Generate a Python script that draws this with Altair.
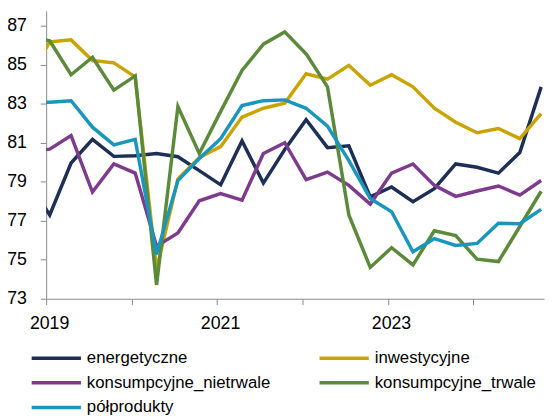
import altair as alt
import pandas as pd

periods = ["2018-10", "2019-01", "2019-04", "2019-07", "2019-10", "2020-01", "2020-04",
           "2020-07", "2020-10", "2021-01", "2021-04", "2021-07", "2021-10", "2022-01",
           "2022-04", "2022-07", "2022-10", "2023-01", "2023-04", "2023-07", "2023-10",
           "2024-01", "2024-04", "2024-07", "2024-10"]

energetyczne = [79.0, 77.3, 79.97, 81.18, 80.31, 80.34, 80.46, 80.29, 79.58, 78.85, 81.1, 78.94,
                80.66, 82.19, 80.76, 80.85, 78.23, 78.74, 77.98, 78.65, 79.92, 79.75, 79.45,
                80.51, 83.88]
inwestycyjne = [84.3, 86.19, 86.29, 85.23, 85.11, 84.39, 74.5, 79.16, 80.25, 80.81, 82.33, 82.78,
                83.04, 84.55, 84.27, 84.98, 83.96, 84.50, 83.88, 82.78, 82.06, 81.52, 81.74,
                81.22, 82.50]
konsumpcyjne_nietrwale = [80.6, 80.68, 81.38, 78.48, 79.92, 79.45, 75.7, 76.38, 78.03, 78.40,
                          78.06, 80.46, 81.01, 79.12, 79.50, 78.82, 77.86, 79.45, 79.92, 78.82,
                          78.26, 78.53, 78.79, 78.32, 79.07]
konsumpcyjne_trwale = [86.5, 86.24, 84.50, 85.40, 83.71, 84.44, 73.71, 82.87, 80.46, 82.62, 84.72,
                       86.07, 86.70, 85.57, 83.88, 77.30, 74.61, 75.62, 74.74, 76.49, 76.24,
                       75.03, 74.91, 76.71, 78.52]
polprodukty = [83.1, 83.09, 83.17, 81.81, 80.90, 81.18, 75.28, 79.07, 80.2, 81.22, 82.92, 83.17,
               83.21, 82.78, 81.86, 80.09, 78.15, 77.47, 75.41, 76.09, 75.74, 75.84, 76.88,
               76.85, 77.59]

series_names = ["energetyczne", "inwestycyjne", "konsumpcyjne_nietrwale",
                "konsumpcyjne_trwale", "półprodukty"]
series_values = [energetyczne, inwestycyjne, konsumpcyjne_nietrwale, konsumpcyjne_trwale,
                 polprodukty]
colors = ["#1d2f55", "#c9a300", "#7e3b8d", "#5a8a3a", "#1a95bc"]
year_ticks = [2019, 2020, 2021, 2022, 2023, 2024]
y_ticks = [73, 75, 77, 79, 81, 83, 85, 87]

rows = []
for name, vals in zip(series_names, series_values):
    for p, v in zip(periods, vals):
        y, m = p.split("-")
        rows.append({"seria": name, "okres": p,
                     "t": int(y) + (int(m) - 0.5) / 12.0, "v": v, "ord": series_names.index(name)})
df = pd.DataFrame(rows)

FONT = "Liberation Sans, Arial, sans-serif"
AXIS_GRAY = "#8a8a8a"

chart = alt.Chart(df).mark_line(strokeWidth=3.5, clip=True).encode(
    x=alt.X("t:Q",
            scale=alt.Scale(domain=[2019, 2024.825], nice=False, zero=False),
            axis=alt.Axis(values=year_ticks, title=None, grid=False,
                          labelExpr="datum.value % 2 == 1 ? format(datum.value, 'd') : ''",
                          tickSize=6, labelPadding=10, labelFlush=False, labelOffset=3,
                          domainColor=AXIS_GRAY, tickColor=AXIS_GRAY,
                          labelFont=FONT, labelFontSize=18, labelColor="#000000")),
    y=alt.Y("v:Q",
            scale=alt.Scale(domain=[73, 87.78], nice=False, zero=False),
            axis=alt.Axis(values=y_ticks, format="d", title=None, grid=False,
                          tickSize=6, labelPadding=14,
                          domainColor=AXIS_GRAY, tickColor=AXIS_GRAY,
                          labelFont=FONT, labelFontSize=18, labelColor="#000000")),
    color=alt.Color("seria:N",
                    scale=alt.Scale(domain=series_names, range=colors),
                    title=None,
                    legend=alt.Legend(orient="none", legendX=-16.7, legendY=342.3,
                                      direction="horizontal",
                                      columns=2, symbolType="stroke", symbolSize=2500,
                                      symbolStrokeWidth=3.5, clipHeight=20, rowPadding=5,
                                      columnPadding=47, labelOffset=4, padding=0,
                                      labelLimit=400,
                                      labelFont=FONT, labelFontSize=17,
                                      labelColor="#000000")),
    order=alt.Order("ord:Q"),
    detail="seria:N",
).properties(
    width=505, height=292,
    padding={"left": 38.7, "top": 0, "right": 1, "bottom": 116},
    autosize="none",
).configure_view(strokeWidth=0)

chart.save("out.html", embed_options={"renderer": "svg", "actions": False})
